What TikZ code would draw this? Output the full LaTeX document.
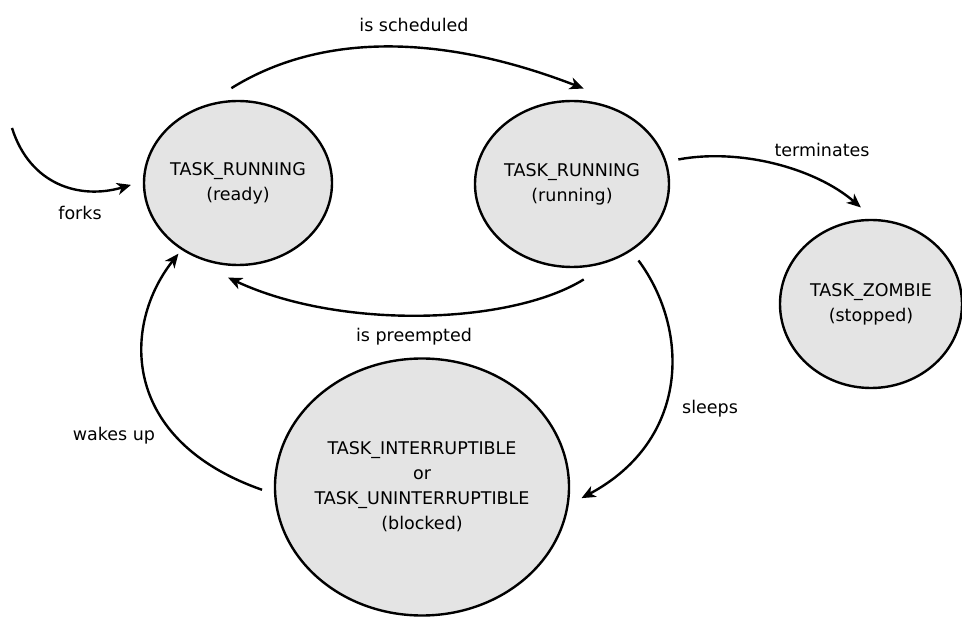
\documentclass[tikz,border=0pt]{standalone}
\usepackage{fontspec}
\setmainfont{DejaVu Sans}
\usetikzlibrary{shapes.geometric,arrows.meta}
\definecolor{statefill}{RGB}{228,228,228}
\begin{document}
\begin{tikzpicture}[x=1pt,y=-1pt,
  state/.style={ellipse, draw=black, line width=2.4pt, fill=statefill,
    inner xsep=-40pt, inner ysep=0pt, outer sep=13pt, align=center,
    font=\fontsize{17.5}{25}\selectfont},
  trans/.style={line width=2.4pt, -{Stealth[length=14pt,width=12pt,inset=4pt]}},
  lbl/.style={anchor=base, inner sep=0pt, font=\fontsize{17.5}{21}\selectfont}]
\useasboundingbox (0,0) rectangle (962,617);
% states
\node[state, minimum width=188pt, minimum height=164pt] (ready) at (238,183) {TASK\_RUNNING\\(ready)};
\node[state, minimum width=194pt, minimum height=166pt] (running) at (572,184) {TASK\_RUNNING\\(running)};
\node[state, minimum width=182pt, minimum height=168pt] (zombie) at (871,304) {TASK\_ZOMBIE\\(stopped)};
\node[state, minimum width=294pt, minimum height=257pt] (blocked) at (422,487) {TASK\_INTERRUPTIBLE\\or\\TASK\_UNINTERRUPTIBLE\\(blocked)};
\coordinate (forkstart) at (12,128);
% transitions
\draw[trans] (forkstart) .. controls (30,185) and (80,200) .. (ready.181);
\draw[trans] (ready.94) .. controls (320,33) and (440,33) .. (running.83);
\draw[trans] (running.13) .. controls (740,148) and (815,168) .. (zombie.96);
\draw[trans] (running.277) .. controls (510,325) and (340,330) .. (ready.264);
\draw[trans] (running.311) .. controls (690,330) and (690,440) .. (blocked.356);
\draw[trans, shorten >=-7pt] (blocked.181) .. controls (120,440) and (122,325) .. (ready.230);
% labels
\node[lbl] (lforks) at (80,220) {forks};
\node[lbl] (lsched) at (414,32) {is scheduled};
\node[lbl] (lterm) at (822,157) {terminates};
\node[lbl] (lpre) at (414,342) {is preempted};
\node[lbl] (lsleep) at (710,414) {sleeps};
\node[lbl] (lwake) at (114,441) {wakes up};
\end{tikzpicture}
\end{document}
